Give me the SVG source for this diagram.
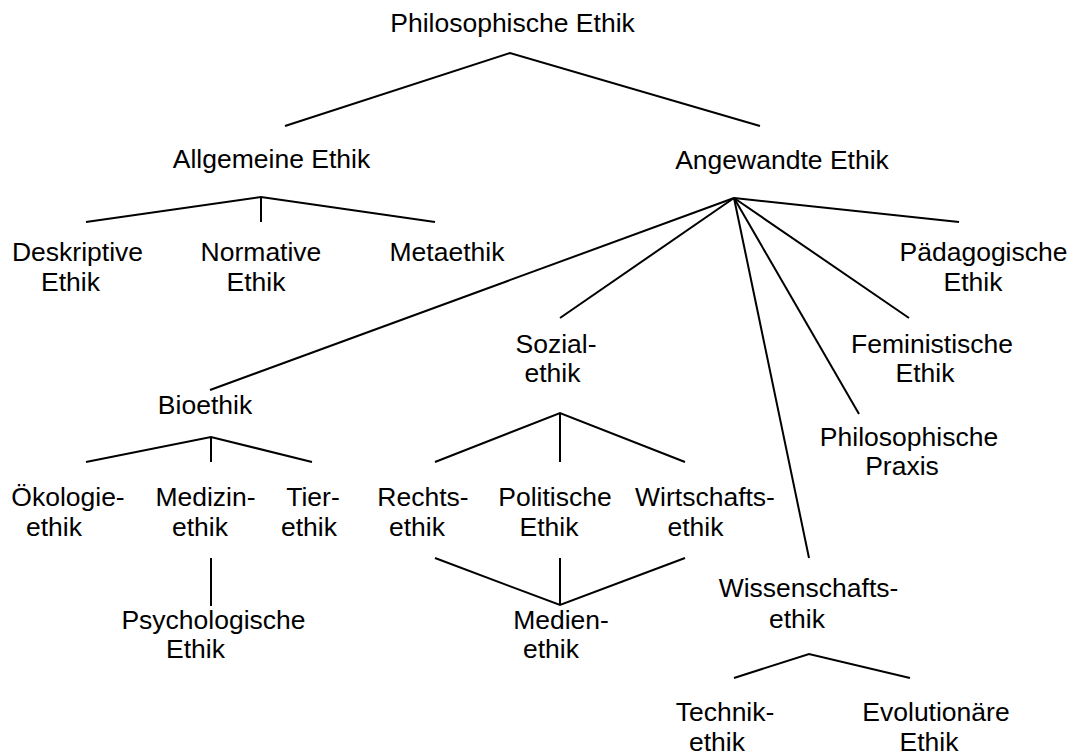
<svg xmlns="http://www.w3.org/2000/svg" width="1078" height="754" viewBox="0 0 1078 754">
  <style>
    .bg { fill: #ffffff; }
    .lbl { font-family: "Liberation Sans", Arial, sans-serif; font-size: 26.5px; fill: #000000; text-anchor: middle; }
    .edge { stroke: #000000; stroke-width: 2; fill: none; stroke-linecap: butt; stroke-linejoin: miter; }
  </style>
  <rect class="bg" x="0" y="0" width="1078" height="754"/>

  <!-- connectors -->
  <g id="connectors">
    <!-- Philosophische Ethik -->
    <polyline class="edge" points="285,126 510,53 760,126"/>
    <!-- Allgemeine Ethik -->
    <polyline class="edge" points="86,222 261,197 435,222"/>
    <line class="edge" x1="261" y1="197" x2="261" y2="222"/>
    <!-- Angewandte Ethik fan -->
    <line class="edge" x1="734" y1="198" x2="210" y2="390"/>
    <line class="edge" x1="734" y1="198" x2="560" y2="318"/>
    <line class="edge" x1="734" y1="198" x2="809" y2="558"/>
    <line class="edge" x1="734" y1="198" x2="859" y2="414"/>
    <line class="edge" x1="734" y1="198" x2="909" y2="318"/>
    <line class="edge" x1="734" y1="198" x2="959" y2="222"/>
    <!-- Bioethik -->
    <polyline class="edge" points="86,462 211,437 312,462"/>
    <line class="edge" x1="211" y1="437" x2="211" y2="462"/>
    <!-- Medizinethik to Psychologische Ethik -->
    <line class="edge" x1="211" y1="558" x2="211" y2="606"/>
    <!-- Sozialethik -->
    <polyline class="edge" points="435,462 560,413 685,462"/>
    <line class="edge" x1="560" y1="413" x2="560" y2="462"/>
    <!-- into Medienethik -->
    <polyline class="edge" points="435,558 560,605 685,558"/>
    <line class="edge" x1="560" y1="558" x2="560" y2="605"/>
    <!-- Wissenschaftsethik -->
    <polyline class="edge" points="734,678 809,654 910,678"/>
  </g>

  <g id="philosophische-ethik">
    <text class="lbl" x="512.5" y="32">Philosophische Ethik</text>
  </g>
  <g id="allgemeine-ethik">
    <text class="lbl" x="271.5" y="168">Allgemeine Ethik</text>
  </g>
  <g id="angewandte-ethik">
    <text class="lbl" x="782" y="169">Angewandte Ethik</text>
  </g>
  <g id="deskriptive-ethik">
    <text class="lbl"><tspan x="77.5" y="261">Deskriptive</tspan><tspan x="70.5" y="290.5">Ethik</tspan></text>
  </g>
  <g id="normative-ethik">
    <text class="lbl"><tspan x="261" y="261">Normative</tspan><tspan x="256" y="290.5">Ethik</tspan></text>
  </g>
  <g id="metaethik">
    <text class="lbl" x="447" y="261">Metaethik</text>
  </g>
  <g id="paedagogische-ethik">
    <text class="lbl"><tspan x="983.5" y="261">Pädagogische</tspan><tspan x="973" y="290.5">Ethik</tspan></text>
  </g>
  <g id="feministische-ethik">
    <text class="lbl"><tspan x="932" y="352.5">Feministische</tspan><tspan x="925" y="382">Ethik</tspan></text>
  </g>
  <g id="philosophische-praxis">
    <text class="lbl"><tspan x="909" y="445.5">Philosophische</tspan><tspan x="902" y="475">Praxis</tspan></text>
  </g>
  <g id="sozialethik">
    <text class="lbl"><tspan x="556" y="352.5">Sozial-</tspan><tspan x="552.5" y="382">ethik</tspan></text>
  </g>
  <g id="bioethik">
    <text class="lbl" x="205" y="413.5">Bioethik</text>
  </g>
  <g id="oekologieethik">
    <text class="lbl"><tspan x="68" y="506">Ökologie-</tspan><tspan x="54" y="535.5">ethik</tspan></text>
  </g>
  <g id="medizinethik">
    <text class="lbl"><tspan x="205.5" y="506">Medizin-</tspan><tspan x="200" y="535.5">ethik</tspan></text>
  </g>
  <g id="tierethik">
    <text class="lbl"><tspan x="313" y="506">Tier-</tspan><tspan x="309" y="535.5">ethik</tspan></text>
  </g>
  <g id="psychologische-ethik">
    <text class="lbl"><tspan x="213.5" y="628.5">Psychologische</tspan><tspan x="195.5" y="658">Ethik</tspan></text>
  </g>
  <g id="rechtsethik">
    <text class="lbl"><tspan x="423" y="506">Rechts-</tspan><tspan x="417" y="535.5">ethik</tspan></text>
  </g>
  <g id="politische-ethik">
    <text class="lbl"><tspan x="555" y="506">Politische</tspan><tspan x="549" y="535.5">Ethik</tspan></text>
  </g>
  <g id="wirtschaftsethik">
    <text class="lbl"><tspan x="705" y="506">Wirtschafts-</tspan><tspan x="695.5" y="535.5">ethik</tspan></text>
  </g>
  <g id="medienethik">
    <text class="lbl"><tspan x="561" y="628.5">Medien-</tspan><tspan x="551" y="658">ethik</tspan></text>
  </g>
  <g id="wissenschaftsethik">
    <text class="lbl"><tspan x="808.5" y="597">Wissenschafts-</tspan><tspan x="797" y="628">ethik</tspan></text>
  </g>
  <g id="technikethik">
    <text class="lbl"><tspan x="725" y="721">Technik-</tspan><tspan x="717" y="750.5">ethik</tspan></text>
  </g>
  <g id="evolutionaere-ethik">
    <text class="lbl"><tspan x="936" y="721">Evolutionäre</tspan><tspan x="929" y="750.5">Ethik</tspan></text>
  </g>
</svg>
